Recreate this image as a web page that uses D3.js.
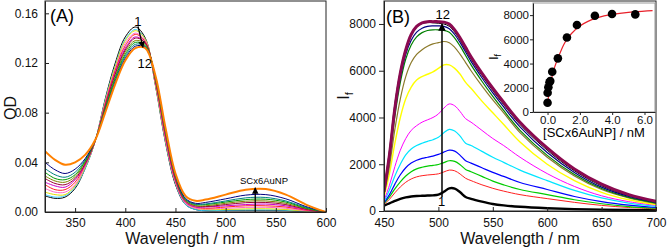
<!doctype html>
<meta charset="utf-8">
<style>
body { margin: 0; background: #fff; }
svg { display: block; font-family: "Liberation Sans", Arial, sans-serif; }
.axis text { font-size: 12px; fill: #111; }
.axis path, .axis line { stroke: #222; }
.inset .axis text { font-size: 11.5px; }
.lbl { font-size: 16px; fill: #111; }
</style>
<svg id="chart" width="667" height="248"></svg>
<script src="https://d3js.org/d3.v7.min.js"></script>
<script>
  // ---- panel A: absorbance spectra ----
  let aWavelength = [320,330,340,350,360,370,380,390,400,410,420,430,440,450,460,470,480,500,520,540,560,580,600];
  let aSpectra = [
    [.013,.011,.012,.019,.035,.057,.091,.120,.141,.149,.140,.102,.056,.022,.006,.002,.001,.001,.001,.001,.001,.0005,0],
    [.014,.012,.013,.020,.035,.057,.090,.118,.139,.147,.139,.103,.057,.023,.006,.002,.001,.0015,.0017,.0017,.0015,.0005,0],
    [.016,.014,.014,.021,.036,.057,.089,.117,.138,.146,.139,.103,.058,.024,.007,.003,.002,.002,.0025,.0026,.002,.0007,0],
    [.019,.016,.016,.022,.037,.057,.088,.115,.136,.144,.138,.104,.059,.024,.007,.003,.0024,.003,.0037,.0038,.003,.001,0],
    [.022,.018,.018,.024,.038,.057,.087,.114,.134,.143,.137,.105,.060,.025,.008,.004,.003,.004,.005,.005,.004,.0015,0],
    [.024,.021,.020,.026,.038,.0575,.086,.112,.132,.141,.136,.106,.061,.026,.008,.004,.004,.005,.006,.0064,.005,.002,0],
    [.027,.023,.022,.027,.039,.0575,.085,.111,.1305,.140,.136,.106,.063,.027,.009,.005,.0044,.006,.0075,.0077,.006,.0023,0],
    [.029,.025,.024,.0285,.040,.0576,.084,.109,.129,.138,.135,.107,.064,.028,.009,.005,.005,.007,.0087,.0089,.007,.0027,0],
    [.032,.027,.026,.030,.041,.0577,.083,.1076,.127,.1366,.134,.108,.065,.029,.010,.006,.006,.008,.010,.0103,.008,.0032,0],
    [.035,.030,.028,.032,.042,.0578,.082,.106,.1254,.135,.1334,.1086,.066,.0294,.0103,.0063,.0065,.0089,.0114,.0117,.0089,.0037,0],
    [.040,.034,.031,.0345,.043,.0579,.081,.1045,.1237,.1335,.1327,.1093,.067,.030,.011,.007,.0077,.0106,.0136,.014,.0106,.0044,0],
    [.049,.042,.038,.040,.046,.058,.080,.103,.122,.132,.132,.110,.068,.031,.013,.009,.010,.014,.018,.0185,.014,.006,0]
  ];
  let aColors = ["#000000","#33ccff","#e0e000","#ff66cc","#ff2020","#cc00cc","#990033","#808000","#009900","#008080","#000080","#ff8000"];
  let aXTicks = [350,400,450,500,550,600];
  let aYTicks = [0,0.04,0.08,0.12,0.16];

  // ---- panel B: fluorescence spectra ----
  let bWavelength = [450,455,460,465,470,475,480,485,490,495,500,505,510,515,520,525,530,540,550,560,575,600,625,650,675,700];
  let bSpectra = [
    [230,330,430,520,580,620,640,650,660,670,700,820,970,960,800,600,520,400,300,240,180,120,80,60,40,30],
    [280,500,780,1030,1230,1370,1460,1510,1540,1560,1590,1670,1750,1720,1580,1400,1300,1120,970,850,700,530,370,240,150,90],
    [320,600,950,1250,1500,1680,1800,1870,1920,1950,1990,2070,2150,2120,1980,1780,1680,1480,1280,1120,920,700,480,310,190,120],
    [350,700,1150,1550,1850,2050,2170,2250,2300,2350,2420,2520,2600,2560,2380,2150,2050,1850,1650,1480,1220,920,620,400,250,150],
    [400,900,1500,2000,2400,2650,2800,2900,2980,3050,3150,3350,3490,3420,3200,2900,2800,2550,2300,2080,1750,1300,880,560,340,200],
    [450,1100,1900,2600,3100,3450,3650,3800,3900,4000,4150,4400,4580,4500,4250,3950,3800,3450,3100,2800,2300,1600,1050,650,400,240],
    [600,1600,2900,4000,4800,5300,5600,5750,5850,5950,6100,6250,6250,6100,5850,5500,5250,4700,4200,3700,2950,2000,1300,800,480,280],
    [700,1900,3500,4800,5750,6350,6700,6900,7050,7150,7200,7250,7200,7000,6700,6350,6000,5350,4750,4200,3350,2300,1500,920,560,330],
    [750,2200,4050,5500,6500,7100,7450,7630,7720,7750,7750,7730,7650,7400,7050,6650,6250,5550,4900,4300,3450,2380,1560,960,580,340],
    [800,2350,4250,5700,6700,7300,7650,7820,7900,7920,7920,7900,7800,7550,7200,6800,6400,5700,5050,4450,3600,2500,1650,1020,620,370],
    [900,2600,4600,6000,6950,7550,7880,8020,8060,8050,8030,8000,7900,7650,7300,6900,6500,5800,5150,4550,3700,2600,1720,1080,660,400],
    [820,2400,4400,5900,6900,7550,7900,8050,8100,8100,8100,8080,8000,7750,7400,7000,6600,5900,5250,4650,3800,2700,1800,1150,700,420]
  ];
  let bColors = ["#000000","#ff2020","#00cc00","#0000ff","#00e5ff","#ff00ff","#ffff00","#8c7a2a","#008000","#000080","#000000","#8b0a50"];
  let bWidths = [2.4,1,1.2,1.2,1.2,1,1.4,1.2,1.2,1.2,1,3];
  let bXTicks = [450,500,550,600,650,700];
  let bYTicks = [0,2000,4000,6000,8000];

  // ---- inset: titration ----
  let insetConc = [0,0.005,0.05,0.12,0.17,0.29,0.64,1.2,1.82,2.93,3.99,5.43];
  let insetIf = [760,1590,2040,2450,2560,3320,4430,6150,7180,7950,8090,8060];
  let fitConc = [0,0.05,0.1,0.2,0.3,0.45,0.6,0.8,1.0,1.25,1.5,2.0,2.5,3.0,3.5,4.0,5.0,6.0,6.5];
  let fitIf = [620,1200,1700,2450,3050,3750,4300,4950,5550,6100,6500,7100,7480,7750,7930,8060,8230,8330,8370];
  let insetXTicks = [0,2,4,6];
  let insetYTicks = [0,2000,4000,6000,8000];

  let svg = d3.select("#chart");
  let defs = svg.append("defs");
  defs.append("marker")
    .attr("id", "head")
    .attr("viewBox", "0 0 10 10")
    .attr("refX", 9).attr("refY", 5)
    .attr("markerWidth", 5).attr("markerHeight", 6)
    .attr("orient", "auto")
    .append("path")
    .attr("d", "M0,0L10,5L0,10z")
    .attr("fill", "#000");

  //
  // Panel A
  //
  let xA = d3.scaleLinear().domain([320, 600]).range([45, 326]);
  let yA = d3.scaleLinear().domain([0, 0.17]).range([212, 0.9]);

  defs.append("clipPath").attr("id", "clipA")
    .append("rect").attr("x", 45).attr("y", 1).attr("width", 281).attr("height", 211);

  let lineA = d3.line()
    .x((d, i) => xA(aWavelength[i]))
    .y(d => yA(d))
    .curve(d3.curveCatmullRom);

  svg.append("g").attr("clip-path", "url(#clipA)")
    .selectAll("path")
    .data(aSpectra)
    .enter()
    .append("path")
    .attr("d", lineA)
    .attr("fill", "none")
    .attr("stroke", (d, i) => aColors[i])
    .attr("stroke-width", (d, i) => i == 11 ? 2 : 1);

  svg.append("g").attr("class", "axis")
    .attr("transform", "translate(0,212)")
    .call(d3.axisBottom(xA).tickValues(aXTicks).tickSize(-4).tickSizeOuter(0).tickPadding(6));
  svg.append("g").attr("class", "axis")
    .attr("transform", "translate(45,0)")
    .call(d3.axisLeft(yA).tickValues(aYTicks).tickFormat(d3.format(".2f")).tickSize(-4).tickSizeOuter(0).tickPadding(7));
  svg.append("rect")
    .attr("x", 45).attr("y", 1).attr("width", 281).attr("height", 211)
    .attr("fill", "none").attr("stroke", "#222");

  svg.append("text").attr("class", "lbl").attr("x", 185).attr("y", 244)
    .attr("text-anchor", "middle").text("Wavelength / nm");
  svg.append("text").attr("class", "lbl")
    .attr("transform", "translate(16,108) rotate(-90)")
    .attr("text-anchor", "middle").text("OD");
  svg.append("text").attr("x", 50).attr("y", 22).style("font-size", "18px").text("(A)");

  // peak arrow 1 -> 12
  svg.append("line")
    .attr("x1", xA(412.7)).attr("y1", yA(0.1495))
    .attr("x2", xA(417.6)).attr("y2", yA(0.1325))
    .attr("stroke", "#000").attr("stroke-width", 1.3)
    .attr("marker-end", "url(#head)");
  svg.append("text").attr("x", xA(412.5)).attr("y", 26).attr("text-anchor", "middle")
    .style("font-size", "13px").text("1");
  svg.append("text").attr("x", xA(419.5)).attr("y", 68).attr("text-anchor", "middle")
    .style("font-size", "13px").text("12");

  // SPR arrow
  svg.append("line")
    .attr("x1", xA(529.5)).attr("y1", yA(0))
    .attr("x2", xA(529.5)).attr("y2", yA(0.0195))
    .attr("stroke", "#000").attr("stroke-width", 1.3)
    .attr("marker-end", "url(#head)");
  svg.append("text").attr("x", 240).attr("y", 184)
    .style("font-size", "9.5px").text("SCx6AuNP");

  //
  // Panel B
  //
  let xB = d3.scaleLinear().domain([450, 700]).range([384, 656]);
  let yB = d3.scaleLinear().domain([0, 9000]).range([211, 0.6]);

  defs.append("clipPath").attr("id", "clipB")
    .append("rect").attr("x", 384).attr("y", 1).attr("width", 272).attr("height", 210);

  let lineB = d3.line()
    .x((d, i) => xB(bWavelength[i]))
    .y(d => yB(d))
    .curve(d3.curveCatmullRom);

  svg.append("g").attr("clip-path", "url(#clipB)")
    .selectAll("path")
    .data(bSpectra)
    .enter()
    .append("path")
    .attr("d", lineB)
    .attr("fill", "none")
    .attr("stroke", (d, i) => bColors[i])
    .attr("stroke-width", (d, i) => bWidths[i]);

  svg.append("g").attr("class", "axis")
    .attr("transform", "translate(0,211)")
    .call(d3.axisBottom(xB).tickValues(bXTicks).tickSize(-4).tickSizeOuter(0).tickPadding(7));
  svg.append("g").attr("class", "axis")
    .attr("transform", "translate(384,0)")
    .call(d3.axisLeft(yB).tickValues(bYTicks).tickFormat(d3.format("d")).tickSize(5).tickSizeOuter(0).tickPadding(3));
  svg.append("rect")
    .attr("x", 384).attr("y", 1).attr("width", 272).attr("height", 210)
    .attr("fill", "none").attr("stroke", "#222");

  svg.append("text").attr("class", "lbl").attr("x", 520).attr("y", 244)
    .attr("text-anchor", "middle").text("Wavelength / nm");
  let ifB = svg.append("text").attr("class", "lbl")
    .attr("transform", "translate(349,96) rotate(-90)")
    .attr("text-anchor", "middle");
  ifB.append("tspan").text("I");
  ifB.append("tspan").attr("dy", 4).style("font-size", "11px").text("f");
  svg.append("text").attr("x", 386).attr("y", 23).style("font-size", "18px").text("(B)");

  svg.append("line")
    .attr("x1", xB(503.3)).attr("y1", yB(600))
    .attr("x2", xB(503.3)).attr("y2", yB(8000))
    .attr("stroke", "#000").attr("stroke-width", 1.5)
    .attr("marker-end", "url(#head)");
  svg.append("text").attr("x", xB(504)).attr("y", 19).attr("text-anchor", "middle")
    .style("font-size", "13px").text("12");
  svg.append("text").attr("x", xB(503)).attr("y", 206).attr("text-anchor", "middle")
    .style("font-size", "13px").text("1");

  //
  // Inset
  //
  let xI = d3.scaleLinear().domain([-0.9, 6.65]).range([533, 655]);
  let yI = d3.scaleLinear().domain([0, 9000]).range([112, 3]);
  let inset = svg.append("g").attr("class", "inset");

  inset.append("rect")
    .attr("x", 533).attr("y", 3).attr("width", 122).attr("height", 109)
    .attr("fill", "#fff").attr("stroke", "#999");

  inset.append("path")
    .datum(fitIf)
    .attr("d", d3.line().x((d, i) => xI(fitConc[i])).y(d => yI(d)).curve(d3.curveCatmullRom))
    .attr("fill", "none").attr("stroke", "#e8202a").attr("stroke-width", 1.2);

  inset.selectAll("circle")
    .data(insetIf)
    .enter()
    .append("circle")
    .attr("cx", (d, i) => xI(insetConc[i]))
    .attr("cy", d => yI(d))
    .attr("r", 4.3)
    .attr("fill", "#000");

  inset.append("g").attr("class", "axis")
    .attr("transform", "translate(0,112)")
    .call(d3.axisBottom(xI).tickValues(insetXTicks).tickFormat(d3.format(".1f")).tickSize(3).tickSizeOuter(0).tickPadding(1));
  inset.append("g").attr("class", "axis")
    .attr("transform", "translate(533,0)")
    .call(d3.axisLeft(yI).tickValues(insetYTicks).tickFormat(d3.format("d")).tickSize(3).tickSizeOuter(0).tickPadding(1));
  inset.selectAll(".axis path").attr("stroke", "#999");

  inset.append("text").attr("x", 594).attr("y", 137).attr("text-anchor", "middle")
    .style("font-size", "13px").text("[SCx6AuNP] / nM");
  let ifI = inset.append("text")
    .attr("transform", "translate(498,57) rotate(-90)")
    .attr("text-anchor", "middle").style("font-size", "13px");
  ifI.append("tspan").text("I");
  ifI.append("tspan").attr("dy", 3).style("font-size", "9px").text("f");
</script>
